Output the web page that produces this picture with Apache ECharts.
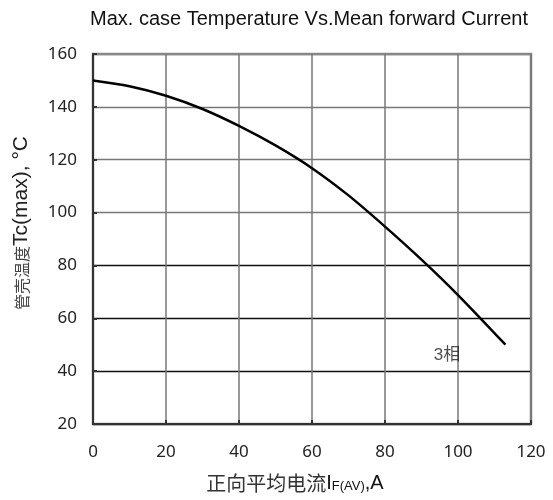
<!DOCTYPE html>
<html>
<head>
<meta charset="utf-8">
<script src="https://cdn.jsdelivr.net/npm/echarts@6/dist/echarts.min.js"></script>
<style>
  html, body { margin: 0; padding: 0; background: #fff; }
  #chart { width: 553px; height: 500px; }
</style>
</head>
<body>
<div id="chart"></div>
<script>
// current I_F(AV), A
const currentA = [0, 10, 20, 30, 40, 50, 60, 70, 80, 90, 100, 113];
// max case temperature Tc(max), °C
const tcMax = [150, 147.8, 144.2, 139.2, 132.8, 125.4, 116.8, 106.5, 94.7, 82.2, 68.8, 50];
const xTicks = { min: 0, max: 120, step: 20 };
const yTicks = { min: 20, max: 160, step: 20 };
const curveLabel = { text: "3相", at: [97, 46] };

const myChart = echarts.init(document.getElementById("chart"));
let fontColor = "#222";
let option = {
  backgroundColor: "#fff",
  animation: false,
  title: {
    text: "Max. case Temperature Vs.Mean forward Current",
    left: 304,
    textAlign: "center",
    top: 4,
    textStyle: {
      fontFamily: "Liberation Sans",
      fontSize: 20,
      fontWeight: "normal",
      color: "#111",
    },
  },
  grid: {
    left: 93,
    right: 22,
    top: 54,
    bottom: 76,
    show: true,
    borderColor: "#888",
    borderWidth: 2.5,
  },
  xAxis: {
    type: "value",
    min: xTicks.min,
    max: xTicks.max,
    interval: xTicks.step,
    name: "{a|正向平均电流}{b|I}{s|F(AV)}{b|,A}",
    nameLocation: "middle",
    nameGap: 49,
    nameTextStyle: {
      padding: [0, 34, 0, 0],
      rich: {
        a: { fontFamily: "Noto Sans CJK SC", fontSize: 20, color: "#333" },
        b: { fontFamily: "Liberation Sans", fontSize: 20, color: "#111" },
        s: { fontFamily: "Liberation Sans", fontSize: 13, color: "#111", verticalAlign: "bottom", padding: [7, 0, 0, 0] },
      },
    },
    axisLine: { lineStyle: { color: "#333", width: 2 } },
    axisTick: { inside: true, length: 4, lineStyle: { color: "#333", width: 2 } },
    axisLabel: { margin: 20, fontFamily: "Noto Sans", fontSize: 17, color: fontColor },
    splitLine: { lineStyle: { color: "#777", width: 1.5 } },
  },
  yAxis: {
    type: "value",
    min: yTicks.min,
    max: yTicks.max,
    interval: yTicks.step,
    name: "{a|管壳温度}{b|Tc(max), °C}",
    nameLocation: "middle",
    nameGap: 61,
    nameRotate: 90,
    nameTextStyle: {
      padding: [0, 0, 0, 32],
      rich: {
        a: { fontFamily: "Noto Sans CJK SC", fontSize: 16, color: "#444" },
        b: { fontFamily: "Liberation Sans", fontSize: 21, color: "#222" },
      },
    },
    axisLine: { show: true, lineStyle: { color: "#333", width: 2 } },
    axisTick: { show: true, inside: true, length: 4, lineStyle: { color: "#333", width: 2 } },
    axisLabel: { margin: 16, fontFamily: "Noto Sans", fontSize: 17, color: fontColor },
    splitLine: {
      lineStyle: {
        // bottom lines look black, upper ones grey
        color: ["#222", "#111", "#111", "#111", "#777", "#777", "#777", "#888"],
        width: 1.3,
      },
    },
  },
  series: [
    {
      type: "line",
      data: currentA.map((x, i) => [x, tcMax[i]]),
      smooth: 0.3,
      symbol: "none",
      lineStyle: { color: "#000", width: 2.5 },
      z: 5,
    },
    {
      type: "scatter",
      symbolSize: 0,
      data: [curveLabel.at],
      label: {
        show: true,
        position: "inside",
        formatter: curveLabel.text,
        fontFamily: "Liberation Sans, Noto Sans CJK SC",
        fontSize: 17,
        color: "#222",
      },
      silent: true,
    },
  ],
};
myChart.setOption(option);
</script>
</body>
</html>
